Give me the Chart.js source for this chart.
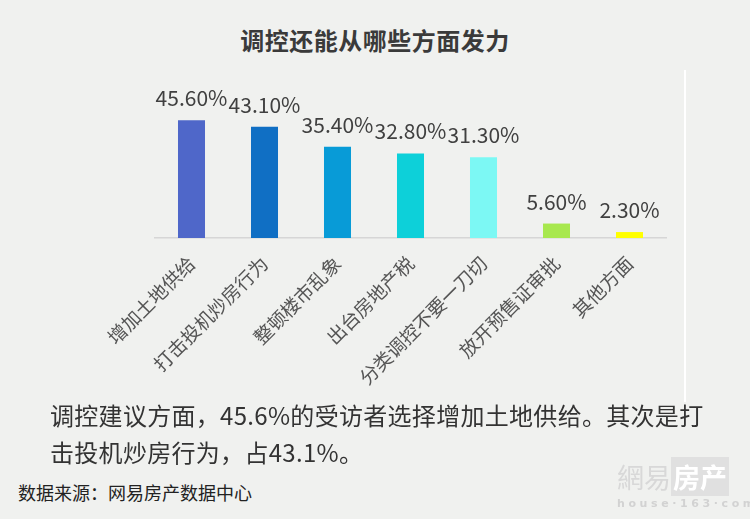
<!DOCTYPE html>
<html>
<head>
<meta charset="utf-8">
<script src="https://cdn.jsdelivr.net/npm/chart.js@4.4.0/dist/chart.umd.min.js"></script>
<style>
  html, body { margin: 0; padding: 0; }
  body { width: 750px; height: 519px; background: #f0f1ef; position: relative; overflow: hidden;
         font-family: "Noto Sans CJK SC", "Noto Sans", sans-serif; }
  #title { position: absolute; left: 0; width: 750px; top: 22px; text-align: center;
           font-size: 24px; font-weight: bold; color: #3a3a3a; letter-spacing: 0.5px; }
  #divider { position: absolute; left: 684px; top: 70px; width: 2px; height: 332px; background: #ffffff; }
  #chartBox { position: absolute; left: 0; top: 0; width: 750px; height: 400px; }
  #note { position: absolute; left: 50px; top: 396px; font-size: 24px; line-height: 37px; color: #333;
          letter-spacing: 0.3px; }
  #source { position: absolute; left: 18px; top: 479px; font-size: 18px; color: #222; }
  #wm { position: absolute; left: 617px; top: 462px; color: #d8d8d8; font-size: 27px; line-height: 30px; }
  #wm .box { background: #e0e0e0; color: #ffffff; font-weight: bold; padding: 0 2px; }
  #wm2 { position: absolute; left: 617px; top: 497px; color: #d2d2d2; font-size: 11px; letter-spacing: 3.6px;
         font-family: "DejaVu Sans", sans-serif; font-weight: bold; }
</style>
</head>
<body>
<div id="title">调控还能从哪些方面发力</div>
<div id="divider"></div>
<div id="chartBox"><canvas id="chart" width="750" height="400"></canvas></div>
<div id="note">调控建议方面，45.6%的受访者选择增加土地供给。其次是打<br>击投机炒房行为，占43.1%。</div>
<div id="source">数据来源：网易房产数据中心</div>
<div id="wm">網易<span class="box">房产</span></div>
<div id="wm2">house·163·com</div>
<script>
const categories = ["增加土地供给", "打击投机炒房行为", "整顿楼市乱象", "出台房地产税", "分类调控不要一刀切", "放开预售证审批", "其他方面"];
const shares = [45.6, 43.1, 35.4, 32.8, 31.3, 5.6, 2.3];
const barColors = ["#4f67c9", "#106fc4", "#089bd7", "#0dd0d9", "#7cf8f4", "#a8e84e", "#ffff00"];

// value labels above the bars
const valueLabels = {
    id: "valueLabels",
    afterDatasetsDraw(chart) {
        const ctx = chart.ctx;
        const meta = chart.getDatasetMeta(0);
        ctx.save();
        ctx.font = "21px 'Noto Sans CJK SC', 'Noto Sans', sans-serif";
        ctx.fillStyle = "#404040";
        ctx.textAlign = "center";
        ctx.textBaseline = "alphabetic";
        meta.data.forEach((bar, i) => {
            ctx.fillText(shares[i].toFixed(2) + "%", bar.x, bar.y - 14);
        });
        ctx.restore();
    }
};

const chart = new Chart(document.getElementById("chart").getContext("2d"), {
    type: "bar",
    data: {
        labels: categories,
        datasets: [{
            data: shares,
            backgroundColor: barColors,
            barPercentage: 0.74,
            categoryPercentage: 0.5
        }]
    },
    options: {
        responsive: false,
        animation: false,
        layout: { padding: { left: 155, right: 84, top: 109, bottom: 0 } },
        plugins: { legend: { display: false }, tooltip: { enabled: false } },
        scales: {
            y: { display: false, min: 0, max: 50 },
            x: {
                grid: { display: false, drawTicks: false },
                border: { display: true, color: "#d6d6d6", width: 1.5 },
                ticks: {
                    minRotation: 45, maxRotation: 45, padding: 14,
                    color: "#555555",
                    font: { size: 19, family: "'Noto Sans CJK SC', sans-serif" }
                },
                afterFit(scale) { scale.height = 162; }
            }
        }
    },
    plugins: [valueLabels]
});
</script>
</body>
</html>
